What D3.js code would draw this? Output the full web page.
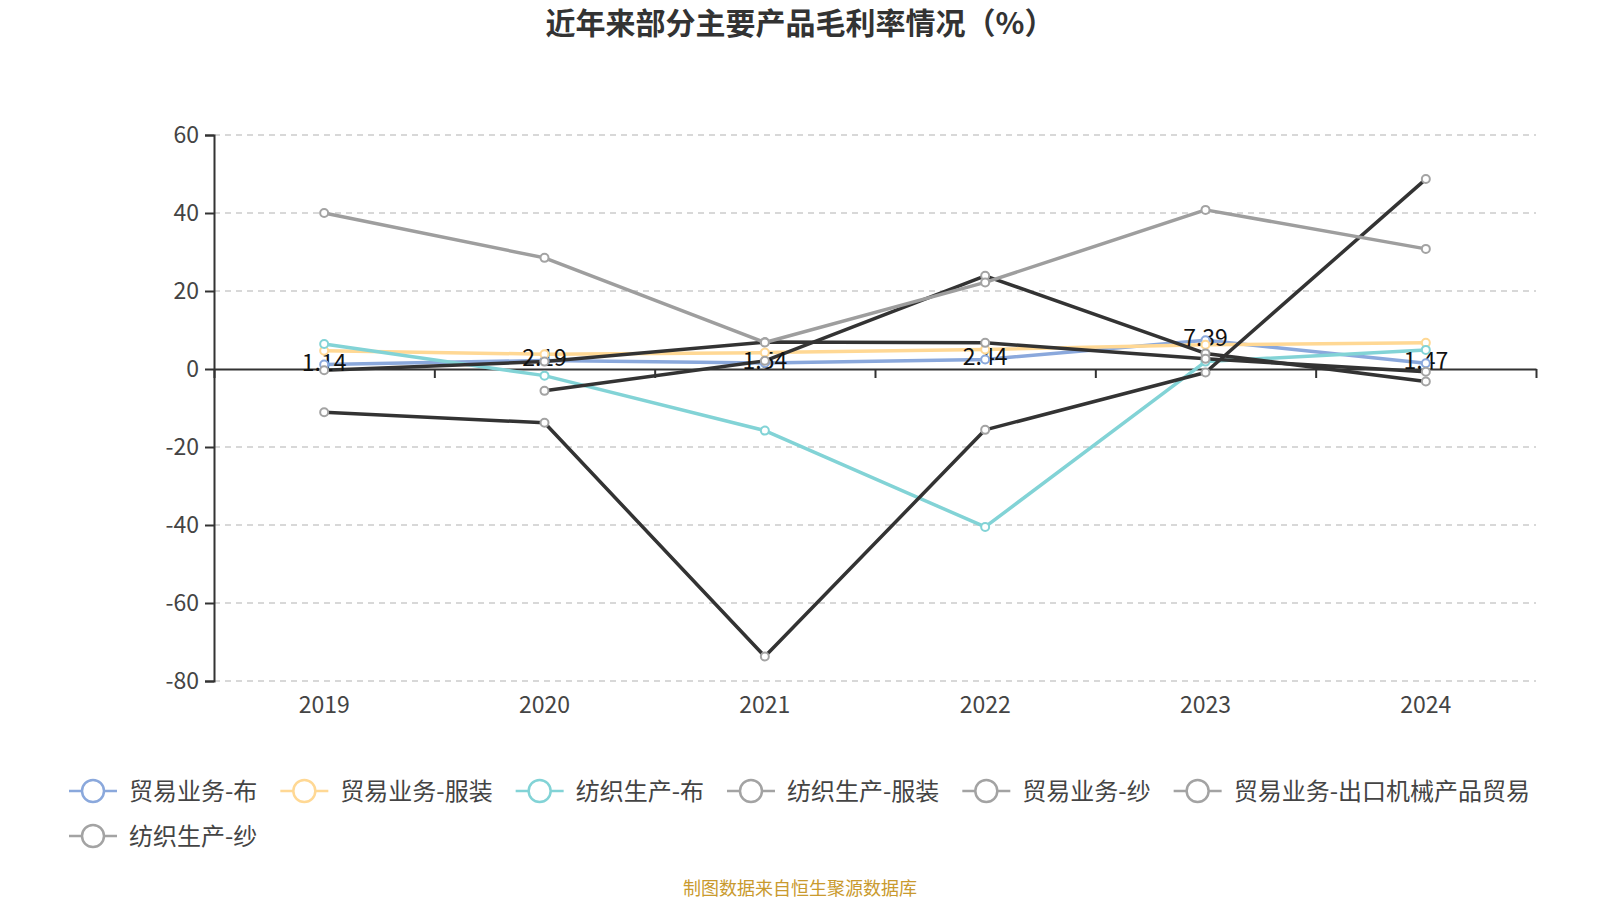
<!DOCTYPE html>
<html>
<head>
<meta charset="utf-8">
<script src="https://cdn.jsdelivr.net/npm/d3@7"></script>
<style>
  body { margin: 0; background: #fff; }
  svg { font-family: "Noto Sans CJK SC", "Noto Sans", sans-serif; }
</style>
</head>
<body>
<svg id="chart" width="1600" height="900"></svg>
<script>
// data
var years = ["2019", "2020", "2021", "2022", "2023", "2024"];
var seriesNames = ["贸易业务-布", "贸易业务-服装", "纺织生产-布", "纺织生产-服装", "贸易业务-纱", "贸易业务-出口机械产品贸易", "纺织生产-纱"];
var tradeCloth = [1.14, 2.19, 1.54, 2.44, 7.39, 1.47];
var tradeApparel = [4.7, 3.8, 4.2, 5.0, 6.2, 6.7];
var textileCloth = [6.4, -1.7, -15.8, -40.5, 1.9, 4.9];
var textileApparel = [-11.1, -13.8, -73.7, -15.6, -0.9, 48.7];
var tradeYarn = [null, -5.6, 2.1, 23.9, 4.0, -3.2];
var tradeMachinery = [-0.3, 1.9, 6.9, 6.7, 2.6, -0.7];
var textileYarn = [40.0, 28.5, 6.8, 22.2, 40.8, 30.8];
var yTicks = [-80, -60, -40, -20, 0, 20, 40, 60];

var values = [tradeCloth, tradeApparel, textileCloth, textileApparel, tradeYarn, tradeMachinery, textileYarn];
var lineColors = ["#8aa8dc", "#ffd894", "#82d3d6", "#333333", "#333333", "#333333", "#9e9e9e"];
var markColors = ["#8aa8dc", "#ffd894", "#82d3d6", "#a3a3a3", "#a3a3a3", "#a3a3a3", "#a3a3a3"];

var svg = d3.select("#chart");
var plotLeft = 214, plotRight = 1536, plotTop = 135, plotBottom = 681;

var x = d3.scaleBand().domain(years).range([plotLeft, plotRight]);
var xTick = d3.scaleLinear().domain([0, years.length]).range([plotLeft, plotRight]);
var y = d3.scaleLinear().domain([-80, 60]).range([plotBottom, plotTop]);

// title
svg.append("text")
  .attr("x", 800).attr("y", 34)
  .attr("text-anchor", "middle")
  .style("font-size", "30px").style("font-weight", "bold").style("fill", "#333")
  .text("近年来部分主要产品毛利率情况（%）");

// grid lines
svg.append("g").selectAll("line")
  .data(yTicks.filter((d) => d != 0))
  .enter().append("line")
  .attr("x1", plotLeft).attr("x2", plotRight)
  .attr("y1", (d) => y(d)).attr("y2", (d) => y(d))
  .style("stroke", "#ccc").style("stroke-width", 1.5)
  .style("stroke-dasharray", "6,5");

// y axis
var yAxis = svg.append("g")
  .attr("transform", `translate(${plotLeft},0)`)
  .call(d3.axisLeft(y).tickValues(yTicks).tickFormat((d) => String(d)).tickSize(9).tickPadding(6));
yAxis.select(".domain").style("stroke", "#333").style("stroke-width", 2);
yAxis.selectAll(".tick line").style("stroke", "#333").style("stroke-width", 2);
yAxis.selectAll("text").style("font-size", "23px").style("fill", "#444")
  .style("font-family", "'Noto Sans CJK SC', sans-serif");

// x axis on zero
var xAxis = svg.append("g")
  .attr("transform", `translate(0,${y(0)})`)
  .call(d3.axisBottom(xTick).tickValues(d3.range(years.length + 1)).tickFormat("").tickSize(9).tickSizeOuter(0));
xAxis.select(".domain").style("stroke", "#333").style("stroke-width", 2);
xAxis.selectAll(".tick line").style("stroke", "#333").style("stroke-width", 2);

// x labels at bottom
svg.append("g").selectAll("text")
  .data(years)
  .enter().append("text")
  .attr("x", (d) => x(d) + x.bandwidth() / 2)
  .attr("y", 713)
  .attr("text-anchor", "middle")
  .style("font-size", "23px").style("fill", "#444")
  .text((d) => d);

var line = d3.line()
  .defined((d) => d != null)
  .x((d, i) => x(years[i]) + x.bandwidth() / 2)
  .y((d) => y(d));

// lines
svg.append("g").selectAll("path")
  .data(values)
  .enter().append("path")
  .attr("d", (d) => line(d))
  .style("fill", "none")
  .style("stroke", (d, i) => lineColors[i])
  .style("stroke-width", 3.5)
  .style("stroke-linejoin", "round");

// value labels of first series
svg.append("g").selectAll("text")
  .data(tradeCloth)
  .enter().append("text")
  .attr("x", (d, i) => x(years[i]) + x.bandwidth() / 2)
  .attr("y", (d) => y(d) + 6)
  .attr("text-anchor", "middle")
  .style("font-size", "23px").style("fill", "#111")
  .text((d) => d.toFixed(2));

// markers
values.forEach((vals, si) => {
  svg.append("g").selectAll("circle")
    .data(vals.map((v, i) => ({ v: v, i: i })).filter((d) => d.v != null))
    .enter().append("circle")
    .attr("cx", (d) => x(years[d.i]) + x.bandwidth() / 2)
    .attr("cy", (d) => y(d.v))
    .attr("r", 4)
    .style("fill", "#fff")
    .style("stroke", markColors[si])
    .style("stroke-width", 2);
});

// legend
var legend = svg.append("g");
var lx = 69, ly = 791;
seriesNames.forEach((name, i) => {
  var item = legend.append("g");
  item.append("line")
    .attr("x1", 0).attr("x2", 48).attr("y1", 0).attr("y2", 0)
    .style("stroke", markColors[i]).style("stroke-width", 2.5);
  item.append("circle")
    .attr("cx", 24).attr("cy", 0).attr("r", 11)
    .style("fill", "#fff").style("stroke", markColors[i]).style("stroke-width", 2.5);
  var t = item.append("text")
    .attr("x", 60).attr("y", 0).attr("dy", "0.36em")
    .style("font-size", "24px").style("fill", "#444")
    .text(name);
  var w = 60 + t.node().getComputedTextLength();
  if (lx + w > 1550) { lx = 69; ly += 45; }
  item.attr("transform", `translate(${lx},${ly})`);
  lx += w + 23;
});

// source note
svg.append("text")
  .attr("x", 800).attr("y", 895)
  .attr("text-anchor", "middle")
  .style("font-size", "18px").style("fill", "#c99a2e")
  .text("制图数据来自恒生聚源数据库");
</script>
</body>
</html>
